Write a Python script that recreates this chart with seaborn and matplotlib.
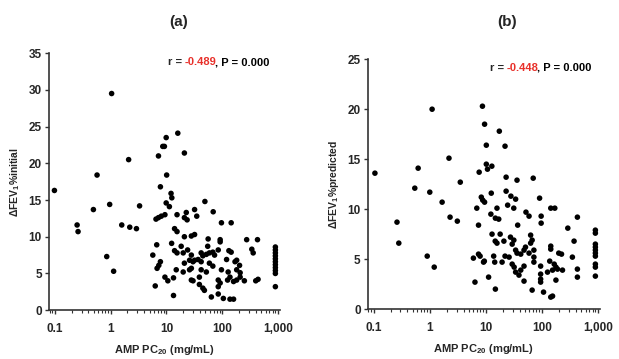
import numpy as np
import pandas as pd
import matplotlib
matplotlib.use("Agg")
import matplotlib.pyplot as plt
import matplotlib.ticker as mtick
import seaborn as sns

# Panel (a): AMP PC20 vs dFEV1 % initial
a_pc20 = [0.098, 0.25, 0.26, 0.49, 0.57, 0.85, 0.96, 1.04, 1.13, 1.58, 2.1, 2.2, 2.9, 3.3,
          5.7, 6.3, 7.2, 8.6, 9.2, 9.9, 16, 21, 10.1, 7.8, 12.1, 12.5, 9.9, 11.3, 49, 32,
          6.5, 7.2, 8.1, 9.4, 15.5, 22.7, 21, 23.5, 35, 69, 97, 145, 14, 15.5, 21, 28, 32,
          92, 92, 6.7, 12.4, 18.4, 56, 55, 85, 275, 430, 14, 15.5, 20, 24, 28, 42, 45, 52,
          59, 68, 73, 132, 145, 340, 360, 7.8, 7.3, 21, 26, 30, 32, 37, 42, 59, 68, 120,
          170, 182, 205, 6.8, 15, 20, 26, 28, 42, 52, 97, 128, 182, 210, 9.4, 10.6, 13.4,
          28, 30, 39, 39, 85, 92, 125, 138, 160, 182, 210, 250, 400, 440, 45, 48, 85, 13.4,
          64, 85, 105, 138, 160,
          900, 900, 900, 900, 900, 900, 900, 900, 900, 900, 900]
a_dfev = [16.3, 11.6, 10.7, 13.7, 18.4, 7.3, 14.4, 29.5, 5.3, 11.6, 20.5, 11.3, 11.1, 14.2,
          7.5, 3.3, 21.0, 22.3, 22.3, 23.5, 24.1, 21.4, 18.4, 16.8, 15.9, 15.3, 14.6, 14.1, 14.8, 13.7,
          12.4, 12.6, 12.8, 13.0, 13.0, 13.3, 12.6, 12.3, 12.8, 13.4, 11.9, 11.9, 11.1, 10.7, 10.0, 10.1, 10.3,
          9.6, 9.3, 8.9, 9.1, 8.7, 9.7, 8.7, 8.2, 9.6, 9.6, 8.1, 7.8, 7.8, 8.2, 7.5, 7.8, 7.4, 7.6,
          7.8, 7.9, 7.5, 8.1, 7.9, 8.3, 7.8, 6.6, 6.1, 6.4, 6.8, 6.6, 6.8, 6.9, 6.6, 6.4, 6.0, 6.9,
          6.6, 6.8, 6.1, 5.7, 5.5, 5.2, 5.5, 5.7, 5.5, 5.2, 5.5, 5.2, 5.5, 5.1, 4.5, 4.0, 4.4,
          4.1, 4.0, 4.5, 3.5, 4.1, 3.7, 4.1, 4.5, 3.9, 4.1, 4.5, 4.0, 4.0, 4.2, 3.0, 2.7, 3.2, 2.0,
          1.8, 2.2, 1.6, 1.5, 1.5,
          8.6, 8.2, 7.8, 7.4, 7.0, 6.6, 6.2, 5.8, 5.4, 5.0, 3.2]

# Panel (b): AMP PC20 vs dFEV1 % predicted
b_pc20 = [0.105, 0.26, 0.28, 0.54, 0.62, 0.9, 1.0, 1.1, 1.2, 1.66, 2.2, 2.3, 3.1, 3.5,
          6.0, 6.4, 6.9, 7.4, 7.6, 7.4, 7.9, 8.3, 8.8, 9.5, 8.7, 9.5, 9.4, 9.1, 10.2, 10.2,
          12.8, 10.7, 11.2, 12.5, 12.3, 12.9, 13.8, 14.4, 14.7, 14.8, 14.8, 15.8, 15.8, 17,
          17.4, 18, 19.5, 21, 22, 22, 23, 23, 24.5, 26, 27.5, 28, 29.5, 29.5, 31.6, 31.5, 32,
          34, 34, 34, 36, 36, 37, 39, 42, 42, 48, 48, 48, 51, 52, 59, 59, 63, 63, 67, 67, 70,
          72, 72, 72, 91, 97, 97, 95, 95, 95, 95, 107, 126, 138, 144, 144, 144, 144, 155, 155,
          166, 170, 178, 178, 190, 200, 224, 233, 290, 350, 375, 430, 430, 430,
          900, 900, 900, 900, 900, 900, 900, 900, 900, 900]
b_dfev = [13.6, 8.7, 6.6, 12.1, 14.1, 5.3, 11.7, 20.0, 4.2, 10.7, 15.1, 9.2, 8.8, 12.7,
          5.1, 2.7, 10.1, 8.4, 13.7, 5.5, 5.3, 11.2, 10.9, 10.7, 20.3, 18.5, 4.8, 4.7, 16.4, 14.5,
          14.3, 14.0, 3.2, 11.6, 9.5, 7.5, 5.3, 4.7, 6.8, 9.1, 2.0, 10.1, 6.6, 9.0,
          17.8, 7.5, 4.7, 6.8, 16.3, 5.3, 13.2, 11.8, 10.4, 5.2, 7.2, 11.3, 6.5, 4.5, 6.9, 10.1, 4.2,
          11.0, 5.9, 3.7, 12.9, 5.6, 8.4, 3.4, 5.5, 3.9, 5.9, 4.3, 2.8, 6.2, 9.7, 9.3, 5.6, 6.6, 7.4, 6.9, 1.9, 13.1,
          5.9, 5.2, 4.7, 11.1, 9.3, 8.6, 4.3, 3.5, 3.0, 2.7, 1.7, 3.7, 4.8, 10.1, 6.3, 6.0, 1.2, 3.9, 1.3,
          4.5, 10.1, 4.2, 2.9, 4.0, 5.6, 5.5, 3.9, 8.1, 5.2, 6.8, 9.2, 4.0, 3.2,
          7.9, 7.6, 6.5, 6.2, 5.9, 5.6, 5.3, 4.5, 4.2, 3.3]

x_ticks = [0.1, 1, 10, 100, 1000]
x_ticklabels = ["0.1", "1", "10", "100", "1,000"]
a_yticks = [0, 5, 10, 15, 20, 25, 30, 35]
b_yticks = [0, 5, 10, 15, 20, 25]
panel_titles = ["(a)", "(b)"]
ylabels = [r"$\mathbf{\Delta}$FEV$_\mathbf{1}$%initial", r"$\mathbf{\Delta}$FEV$_\mathbf{1}$%predicted"]
xlabel = r"AMP PC$_\mathbf{20}$ (mg/mL)"
r_values = ["-0.489", "-0.448"]
p_values = ["0.000", "0.000"]

df_a = pd.DataFrame({"pc20": a_pc20, "dfev": a_dfev})
df_b = pd.DataFrame({"pc20": b_pc20, "dfev": b_dfev})

sns.set_style("ticks")
fam = ["Liberation Sans", "DejaVu Sans"]
plt.rcParams["font.family"] = fam
plt.rcParams["font.weight"] = "bold"
plt.rcParams["mathtext.fontset"] = "custom"
plt.rcParams["mathtext.rm"] = "Liberation Sans:bold"
plt.rcParams["mathtext.bf"] = "Liberation Sans:bold"
plt.rcParams["mathtext.it"] = "Liberation Sans:bold"

fig = plt.figure(figsize=(6.19, 3.59), dpi=100)
ax_a = fig.add_axes([0.079, 0.136, 0.373, 0.716])
ax_b = fig.add_axes([0.594, 0.139, 0.375, 0.696])

for ax, df, yt, ylab, title, tx, r, p, rx in zip(
        [ax_a, ax_b], [df_a, df_b], [a_yticks, b_yticks], ylabels, panel_titles,
        [0.289, 0.819], r_values, p_values, [0.515, 0.526]):
    sns.scatterplot(data=df, x="pc20", y="dfev", ax=ax, color="black", s=16,
                    edgecolor="none", legend=False)
    ax.set_xscale("log")
    ax.set_xlim(0.078, 1080)
    ax.set_ylim(yt[0], yt[-1])
    ax.xaxis.set_major_locator(mtick.FixedLocator(x_ticks))
    ax.xaxis.set_major_formatter(mtick.FixedFormatter(x_ticklabels))
    ax.xaxis.set_minor_locator(mtick.LogLocator(base=10, subs=np.arange(2, 10)))
    ax.xaxis.set_minor_formatter(mtick.NullFormatter())
    ax.set_yticks(yt)
    for s in ["top", "right"]:
        ax.spines[s].set_visible(False)
    for s in ["left", "bottom"]:
        ax.spines[s].set_color("#333333")
        ax.spines[s].set_linewidth(1.2)
    ax.tick_params(axis="both", which="major", length=3, width=1, color="#333333",
                   labelsize=8.5)
    ax.tick_params(axis="x", which="major", pad=6)
    ax.tick_params(axis="y", which="major", pad=2)
    ax.tick_params(axis="x", which="minor", length=2, width=0.8, color="#333333")
    for lab in ax.get_xticklabels() + ax.get_yticklabels():
        lab.set_fontweight("bold")
    ax.set_xlabel(xlabel, fontsize=8, fontweight="bold", labelpad=6)
    ax.set_ylabel(ylab, fontsize=7.5, fontweight="bold", labelpad=5)
    fig.text(tx, 0.939, title, ha="center", va="center", fontsize=11, fontweight="bold")

    # correlation annotation, red r value
    t1 = ax.text(rx, 0.965, "r = ", transform=ax.transAxes, fontsize=8,
                 fontweight="bold", ha="left", va="center")
    t2 = ax.annotate(r, xy=(1, 0), xycoords=t1, va="bottom", fontsize=8,
                     fontweight="bold", color="#e8302a")
    ax.annotate(", P = " + p, xy=(1, 0), xycoords=t2, xytext=(-1.2, 0),
                textcoords="offset points", va="bottom", fontsize=8,
                fontweight="bold", color="black")

fig.savefig("out.png", dpi=100)
